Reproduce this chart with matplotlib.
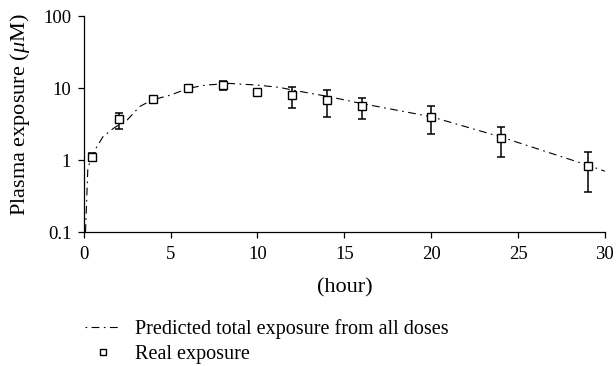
import matplotlib
matplotlib.use("Agg")
import matplotlib.pyplot as plt
from matplotlib.lines import Line2D

plt.rcParams['font.family'] = ['Liberation Serif', 'DejaVu Serif']
plt.rcParams['mathtext.fontset'] = 'custom'
plt.rcParams['mathtext.it'] = 'Liberation Serif:italic'
plt.rcParams['mathtext.rm'] = 'Liberation Serif'

# Observed data
obs_time = [0.5, 2, 4, 6, 8, 10, 12, 14, 16, 20, 24, 29]
obs_mean = [1.1, 3.7, 7.1, 10.1, 10.9, 8.7, 8.0, 6.8, 5.6, 4.0, 2.04, 0.83]
obs_low = [0.96, 2.72, 6.25, 9.2, 9.4, 7.9, 5.3, 4.0, 3.75, 2.27, 1.09, 0.36]
obs_high = [1.24, 4.45, 7.8, 11.2, 12.4, 9.6, 10.4, 9.4, 7.2, 5.6, 2.9, 1.28]

# Predicted curve
pred_time = [0.1, 0.23, 0.38, 0.73, 1.1, 1.7, 2.0, 2.5, 3.2, 3.9, 5.0, 6.0, 7.0,
             8.4, 10.0, 11.3, 12, 14, 16, 20, 24, 29, 30]
pred_conc = [0.1, 0.73, 1.0, 1.5, 2.1, 2.75, 3.05, 3.6, 5.5, 6.8, 8.0, 9.9, 11.0,
             11.6, 11.0, 10.2, 9.4, 7.7, 6.1, 4.0, 2.1, 0.85, 0.70]

x_ticks = [0, 5, 10, 15, 20, 25, 30]
y_ticks = [0.1, 1, 10, 100]
y_ticklabels = ['0.1', '1', '10', '100']

fig = plt.figure(figsize=(6.16, 3.66), dpi=100)
ax = fig.add_axes([0.136, 0.366, 0.846, 0.590])

dash = (0, (7, 4, 1.5, 4))
ax.plot(pred_time, pred_conc, color='black', lw=0.8, linestyle=dash)

yerr = [[m - l for m, l in zip(obs_mean, obs_low)],
        [h - m for m, h in zip(obs_mean, obs_high)]]
ax.errorbar(obs_time, obs_mean, yerr=yerr, fmt='none', ecolor='black',
            elinewidth=1.1, capsize=3, capthick=1.1, zorder=3)
ax.plot(obs_time, obs_mean, linestyle='none', marker='s', markersize=5.5,
        markerfacecolor='white', markeredgecolor='black', markeredgewidth=1.0,
        zorder=4)

ax.set_yscale('log')
ax.set_xlim(0, 30)
ax.set_ylim(0.1, 100)
ax.set_xticks(x_ticks)
ax.set_xticklabels([str(t) for t in x_ticks])
ax.set_yticks(y_ticks)
ax.set_yticklabels(y_ticklabels)
ax.minorticks_off()
ax.yaxis.set_minor_locator(matplotlib.ticker.NullLocator())
ax.tick_params(axis='both', labelsize=13.5, length=4, width=0.9, direction='out')
ax.tick_params(axis='y', pad=5)
ax.tick_params(axis='x', pad=6)
for s in ['top', 'right']:
    ax.spines[s].set_visible(False)
for s in ['left', 'bottom']:
    ax.spines[s].set_linewidth(0.9)

ax.set_xlabel('(hour)', fontsize=16, labelpad=11)
ax.set_ylabel(r'Plasma exposure ($\mathit{\mu}$M)', fontsize=16)
ax.yaxis.set_label_coords(-0.099, 0.545)

handles = [
    Line2D([], [], color='black', lw=0.8, linestyle=(0, (1.5, 4, 7, 4))),
    Line2D([], [], linestyle='none', marker='s', markersize=5,
           markerfacecolor='white', markeredgecolor='black', markeredgewidth=1.0),
]
fig.legend(handles, ['Predicted total exposure from all doses', 'Real exposure'],
           loc='upper left', bbox_to_anchor=(85 / 616, 1 - 319 / 366), frameon=False,
           fontsize=14.5, handlelength=1.75, handletextpad=0.72, labelspacing=0.3,
           borderaxespad=0, borderpad=0)

fig.savefig('out.png', dpi=100)
